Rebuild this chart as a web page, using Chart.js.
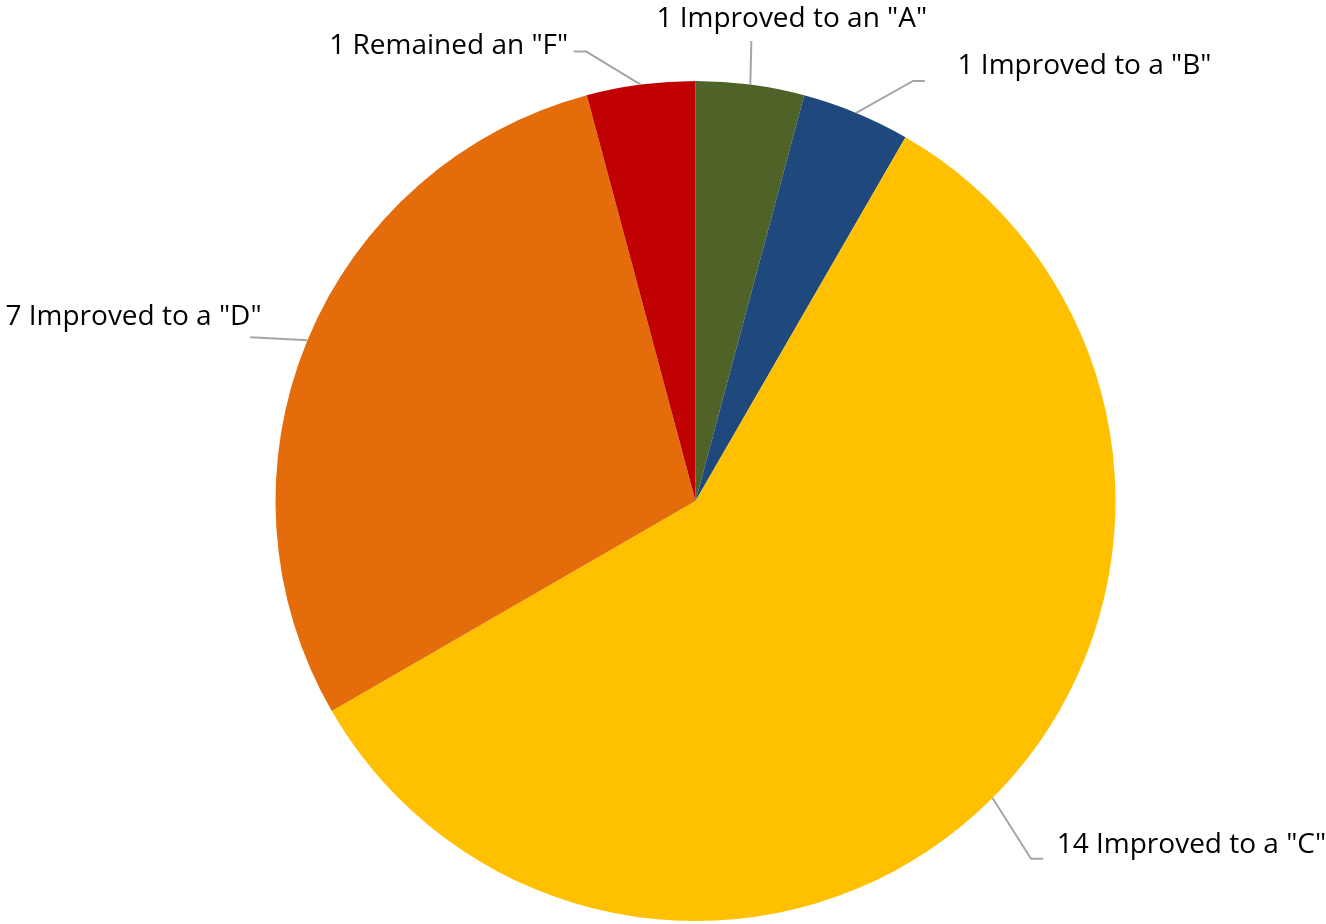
<!DOCTYPE html>
<html>
<head>
<meta charset="utf-8">
<script src="https://cdn.jsdelivr.net/npm/chart.js@4.4.0/dist/chart.umd.min.js"></script>
<style>
  html, body { margin: 0; padding: 0; background: #fff; }
  #wrap { width: 1326px; height: 924px; position: relative; }
</style>
</head>
<body>
<div id="wrap"><canvas id="gradeChart"></canvas></div>
<script>
const labels = ['1 Improved to an "A"', '1 Improved to a "B"', '14 Improved to a "C"', '7 Improved to a "D"', '1 Remained an "F"'];
const counts = [1, 1, 14, 7, 1];
const colors = ['#4F6228', '#1F497D', '#FFC000', '#E46C0A', '#C00000'];

// label placement: elbow point and text anchor, in radius units from the pie centre
const elbows = [[0.133, -1.095], [0.518, -1.0], [0.799, 0.852], [-1.06, -0.39], [-0.26, -1.07]];
const elbowEnds = [[0.133, -1.095], [0.546, -1.0], [0.828, 0.852], [-1.06, -0.39], [-0.29, -1.07]];
const textAnchors = [[-0.093, -1.148], [0.624, -1.036], [0.86, 0.818], [-1.643, -0.437], [-0.872, -1.084]];

const leaderPlugin = {
    id: 'leaderLabels',
    afterDatasetsDraw(chart) {
        const ctx = chart.ctx;
        const meta = chart.getDatasetMeta(0);
        ctx.save();
        ctx.font = '28px "Open Sans", sans-serif';
        ctx.textBaseline = 'middle';
        meta.data.forEach((arc, i) => {
            const p = arc.getProps(['x', 'y', 'startAngle', 'endAngle', 'outerRadius'], true);
            const mid = (p.startAngle + p.endAngle) / 2;
            const r = p.outerRadius;
            const sx = p.x + Math.cos(mid) * r;
            const sy = p.y + Math.sin(mid) * r;
            ctx.strokeStyle = '#A6A6A6';
            ctx.lineWidth = 2;
            ctx.beginPath();
            ctx.moveTo(sx, sy);
            ctx.lineTo(p.x + elbows[i][0] * r, p.y + elbows[i][1] * r);
            ctx.lineTo(p.x + elbowEnds[i][0] * r, p.y + elbowEnds[i][1] * r);
            ctx.stroke();
            ctx.fillStyle = '#000';
            ctx.textAlign = 'left';
            ctx.fillText(chart.data.labels[i], p.x + textAnchors[i][0] * r, p.y + textAnchors[i][1] * r);
        });
        ctx.restore();
    }
};

new Chart(document.getElementById('gradeChart').getContext('2d'), {
    type: 'pie',
    data: {
        labels: labels,
        datasets: [{
            data: counts,
            backgroundColor: colors,
            borderWidth: 0
        }]
    },
    options: {
        responsive: true,
        maintainAspectRatio: false,
        animation: false,
        layout: { padding: { left: 275, right: 210, top: 81, bottom: 3 } },
        plugins: {
            legend: { display: false },
            tooltip: { enabled: false }
        }
    },
    plugins: [leaderPlugin]
});
</script>
</body>
</html>
